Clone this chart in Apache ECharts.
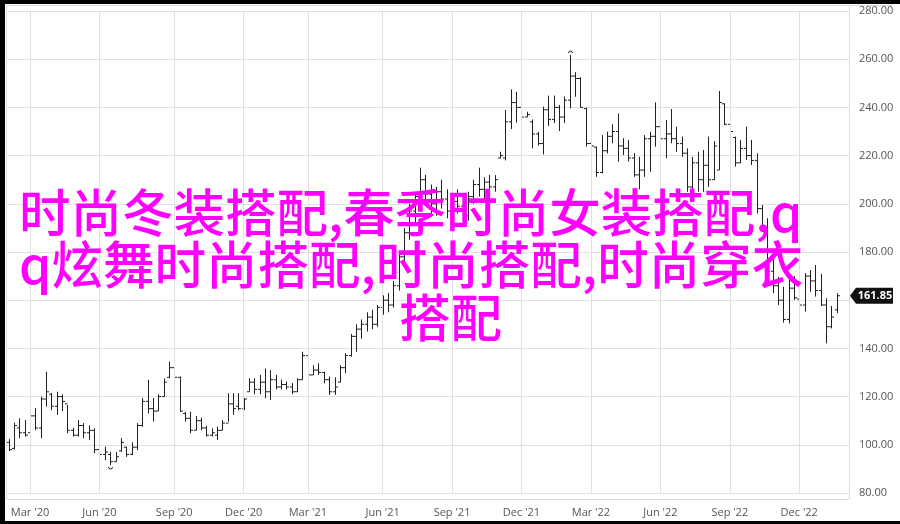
<!DOCTYPE html>
<html>
<head>
<meta charset="utf-8">
<script src="https://cdn.jsdelivr.net/npm/echarts@6/dist/echarts.min.js"></script>
<style>
  html, body { margin: 0; padding: 0; background: #fff; }
  #chart { width: 900px; height: 524px; }
</style>
</head>
<body>
<div id="chart"></div>
<script>
// weekly bars, first week starts Mon 3 Feb 2020
const firstWeek = '2020-02-03';
const weekCount = 158;

const tickDates = ['2020-03-02', '2020-06-01', '2020-09-07', '2020-12-07', '2021-03-01', '2021-06-07',
    '2021-09-06', '2021-12-06', '2022-03-07', '2022-06-06', '2022-09-05', '2022-12-05'];
const tickLabels = ["Mar '20", "Jun '20", "Sep '20", "Dec '20", "Mar '21", "Jun '21",
    "Sep '21", "Dec '21", "Mar '22", "Jun '22", "Sep '22", "Dec '22"];

const open = [
    101, 98.5, 107, 105, 105, 112, 107, 119, 121, 116,
    120, 117, 106, 104, 108, 105, 106, 98, 96, 96,
    93, 97.5, 99, 96, 99, 108, 118, 115, 114, 120,
    128, 132, 128, 113, 111, 106, 110, 107, 104, 104,
    106, 109, 117, 116, 115, 122, 126, 123, 126, 122,
    127, 124, 125, 124, 122, 127, 137, 129, 131, 130,
    127, 122, 126, 132, 137, 145, 148, 150, 153, 150,
    157, 160, 158, 166, 178, 188, 197, 203, 210, 204,
    200, 205, 202, 197, 201, 199, 195, 203, 208, 206,
    209, 207, 219, 219, 234, 242, 240, 236, 234, 229,
    225, 239, 235, 240, 236, 243, 253, 252, 239.5, 225,
    223.5, 213, 222, 228, 230, 224, 223, 219, 212, 214,
    227, 228, 232, 227, 229, 227, 225, 221, 207, 217,
    210, 216, 210, 214, 241.5, 233, 227.5, 217, 223, 220,
    218, 198, 190, 172, 166, 160, 152, 165, 160.5, 158,
    170, 168, 164, 158, 149, 156
];
const high = [
    102.4, 109.2, 111, 110.3, 121.4, 115.3, 120, 130.3, 121.5, 122,
    121, 116.5, 107, 110.3, 109, 108, 106.8, 100, 99.2, 97.1,
    97, 102.8, 99.2, 101, 109, 119.4, 127, 119.4, 121, 127.6,
    134.5, 133, 128.3, 113.7, 113.7, 112, 111.2, 107.8, 106.8, 107.5,
    110.3, 121.4, 121.4, 121.4, 119.4, 127.6, 127.6, 129, 131.7, 131,
    129, 127, 126.3, 125.6, 127.6, 138.6, 138.6, 133, 133.8, 130.3,
    128.3, 128, 133, 138, 146, 150, 152, 155, 156, 158,
    162, 163, 168, 180, 190, 200, 205, 215, 212, 208,
    207, 210, 206, 204, 206, 203, 205, 210, 215, 211,
    212, 211.9, 221.6, 238.9, 247.5, 246.5, 250.4, 238.2, 235, 229.9,
    240.3, 244.9, 244.9, 241, 244.5, 261.7, 254.6, 252.5, 239.9, 233.8,
    223.7, 228.5, 229.9, 233, 237.5, 227.2, 226.5, 221, 219.5, 228.5,
    229.9, 242.1, 240.3, 234.8, 239.3, 232, 227.9, 223, 219.5, 221.6,
    222.3, 227.9, 226, 246.8, 241.7, 233.4, 227.9, 226.5, 232, 226.5,
    221, 199.5, 194, 180.8, 169.7, 165.6, 170.5, 170, 160.8, 171.2,
    172.5, 174.6, 170.9, 160.8, 157.6, 162.9
];
const low = [
    97.4, 98.1, 102.7, 103.4, 104.8, 106.1, 102.7, 115.8, 114.4, 112.4,
    114, 104.8, 103.4, 103.4, 102.7, 102, 96.5, 95, 93.7, 91.6,
    93, 97.1, 95, 95.7, 97.8, 107.5, 113, 109.6, 114, 120,
    127.6, 127.6, 113.7, 109.6, 104.8, 106, 106, 103.4, 103.4, 102,
    106.1, 109.6, 112.4, 114.4, 114.4, 122, 121, 121, 119.3, 118.6,
    123, 123, 123, 121, 122, 126.9, 128, 129, 129, 125.5,
    120.7, 120.7, 126, 129.7, 136.6, 138.6, 144, 147, 148, 149,
    154, 155, 157, 164, 175, 185, 192, 200, 200, 196,
    195, 198, 194, 193, 196, 192, 193, 200, 203, 201,
    204, 205, 218.9, 218, 231, 233.7, 232.4, 236, 223, 224.1,
    220.5, 232.3, 233.5, 230.2, 233.5, 239.6, 244.4, 239.9, 223.7, 222.7,
    211.2, 212.6, 220.9, 225.1, 217.5, 220.2, 217.5, 211.2, 206, 211.2,
    213.3, 223.7, 223, 218.9, 225.1, 221.6, 219.5, 205, 204, 205,
    205, 207, 210, 214, 232.7, 225.8, 215.4, 216.8, 218.2, 216.1,
    196, 188.4, 167.7, 162.9, 158, 150.7, 150.4, 160.1, 156.6, 155.2,
    163.5, 161.5, 157.6, 142.1, 148.3, 154.6
];
const close = [
    98, 108, 105, 104, 112, 107, 119, 122, 116, 120,
    118, 106, 104, 108, 105, 106, 98, 96, 97, 93,
    95, 101, 96, 99, 108, 118, 115, 114, 120, 126,
    132, 128, 114, 111, 106, 110, 107, 104, 105, 106,
    109, 117, 115, 115, 119, 126, 123, 126, 122, 127,
    124, 125, 124, 122, 127, 137, 129, 131, 130, 127,
    122, 124, 132, 137, 145, 148, 150, 153, 150, 157,
    160, 158, 166, 178, 188, 197, 203, 210, 204, 200,
    205, 202, 197, 201, 199, 195, 203, 208, 206, 209,
    207, 210, 220, 234, 242, 240, 236, 237, 229, 225,
    239, 235, 240, 236, 243, 253, 252, 240, 225, 224,
    213, 222, 228, 230, 224, 223, 219, 212, 214, 227,
    228, 232, 227, 229, 227, 225, 221, 207, 217, 210,
    216, 210, 224, 242, 233, 230, 217, 223, 220, 218,
    198, 190, 172, 166, 160, 152, 165, 161, 158, 170,
    168, 164, 158, 149, 153, 161.85
];

const titleLines = ['时尚冬装搭配,春季时尚女装搭配,q', 'q炫舞时尚搭配,时尚搭配,时尚穿衣', '搭配'];

// build week list
const weeks = [];
let d = new Date(firstWeek + 'T00:00:00Z');
for (let i = 0; i < weekCount; i++) {
    weeks.push(d.toISOString().slice(0, 10));
    d = new Date(d.getTime() + 7 * 86400000);
}

const bars = open.map((o, i) => [i, o, high[i], low[i], close[i]]);
const lastIdx = bars.length - 1;
const maxIdx = high.indexOf(Math.max(...high));
const minIdx = low.indexOf(Math.min(...low));

function renderBar(params, api) {
    const i = api.value(0);
    const pO = api.coord([i, api.value(1)]);
    const pH = api.coord([i, api.value(2)]);
    const pL = api.coord([i, api.value(3)]);
    const pC = api.coord([i, api.value(4)]);
    const x = Math.round(pO[0]) + 0.5;
    const style = {stroke: '#222', lineWidth: 1};
    const children = [
        {type: 'line', shape: {x1: x, y1: pH[1], x2: x, y2: pL[1]}, style: style},
        {type: 'line', shape: {x1: x - 2.5, y1: pO[1], x2: x, y2: pO[1]}, style: style},
        {type: 'line', shape: {x1: x, y1: pC[1], x2: x + 2.5, y2: pC[1]}, style: style}
    ];
    if (i === maxIdx) {
        children.push({type: 'arc', shape: {cx: x, cy: pH[1] - 2, r: 2, startAngle: Math.PI, endAngle: 2 * Math.PI},
            style: {stroke: '#222', fill: 'none', lineWidth: 1}});
    }
    if (i === minIdx) {
        children.push({type: 'arc', shape: {cx: x, cy: pL[1] + 2, r: 2, startAngle: 0, endAngle: Math.PI},
            style: {stroke: '#222', fill: 'none', lineWidth: 1}});
    }
    if (i === lastIdx) {
        const r = params.coordSys.x + params.coordSys.width;
        const y = pC[1];
        children.push({
            type: 'polygon',
            shape: {points: [[r, y], [r + 6, y - 8], [r + 43, y - 8], [r + 43, y + 8], [r + 6, y + 8]]},
            style: {fill: '#111'}
        });
        children.push({
            type: 'text',
            style: {x: r + 25, y: y, text: api.value(4).toFixed(2), fill: '#fff',
                font: 'bold 11px "Open Sans"', align: 'center', verticalAlign: 'middle'}
        });
    }
    return {type: 'group', children: children};
}

const titleFont = '500 51.5px "Noto Sans CJK SC"';

const chart = echarts.init(document.getElementById('chart'));
const option = {
    animation: false,
    grid: {left: 6, right: 50, top: 11, bottom: 31},
    xAxis: {
        type: 'category',
        data: weeks,
        boundaryGap: true,
        axisLine: {show: false},
        axisTick: {show: false},
        splitLine: {show: false},
        axisLabel: {
            interval: (idx, val) => tickDates.indexOf(val) >= 0,
            formatter: (val) => tickLabels[tickDates.indexOf(val)],
            margin: 14,
            color: '#555',
            fontSize: 11,
            fontFamily: 'Open Sans'
        }
    },
    yAxis: {
        type: 'value',
        position: 'right',
        min: 80,
        max: 280,
        interval: 20,
        axisLine: {show: false},
        axisTick: {show: false},
        splitLine: {lineStyle: {color: '#e0e0e0', width: 1}},
        axisLabel: {
            formatter: (v) => v.toFixed(2),
            margin: 9,
            color: '#555',
            fontSize: 11,
            fontFamily: 'Open Sans'
        }
    },
    graphic: [
        {type: 'rect', shape: {x: 6.5, y: 5.5, width: 843, height: 494}, style: {fill: 'none', stroke: '#dcdcdc', lineWidth: 1}, z: 0, silent: true},
        {type: 'line', shape: {x1: 850, y1: 5.5, x2: 892, y2: 5.5}, style: {stroke: '#dcdcdc', lineWidth: 1}, silent: true},
        {type: 'rect', shape: {x: 0, y: 0, width: 900, height: 4}, style: {fill: '#000'}, silent: true},
        {type: 'rect', shape: {x: 0, y: 0, width: 5, height: 524}, style: {fill: '#000'}, silent: true},
        {type: 'rect', shape: {x: 0, y: 521, width: 900, height: 3}, style: {fill: '#000'}, silent: true},
        {type: 'text', left: 19, top: 187, z: 100, style: {text: titleLines[0], fill: '#ff00ff', font: titleFont}},
        {type: 'text', left: 19, top: 239, z: 100, style: {text: titleLines[1], fill: '#ff00ff', font: titleFont}},
        {type: 'text', left: 399, top: 292, z: 100, style: {text: titleLines[2], fill: '#ff00ff', font: titleFont}}
    ],
    series: [
        {
            type: 'line',
            z: 1,
            data: [],
            silent: true,
            markLine: {
                silent: true,
                symbol: 'none',
                label: {show: false},
                lineStyle: {color: '#e0e0e0', type: 'solid', width: 1},
                data: tickDates.map((t) => ({xAxis: t}))
            }
        },
        {
            type: 'custom',
            z: 3,
            renderItem: renderBar,
            encode: {x: 0, y: [1, 2, 3, 4]},
            data: bars
        }
    ]
};
chart.setOption(option);
window.addEventListener('resize', function () {
    chart.resize();
});
</script>
</body>
</html>
